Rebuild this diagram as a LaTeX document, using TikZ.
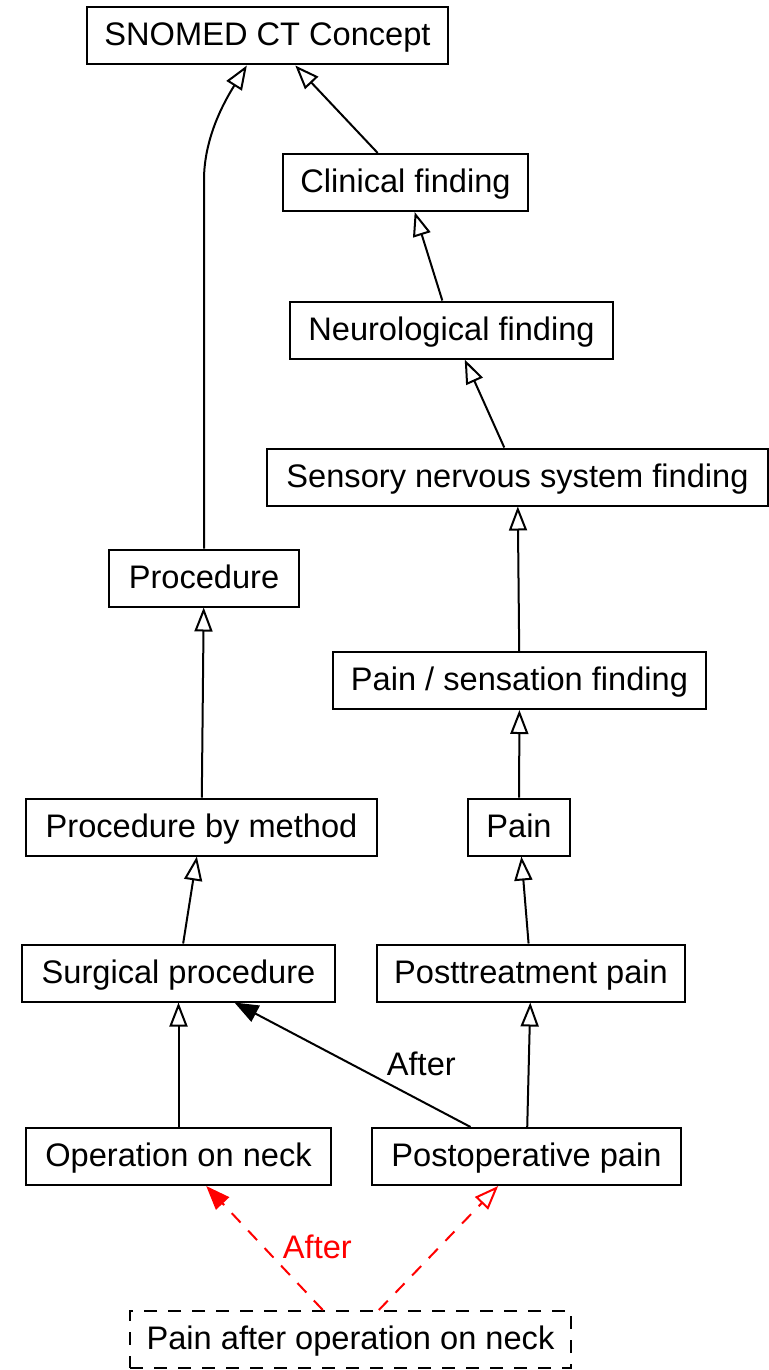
\documentclass[tikz,border=0pt]{standalone}
\usepackage{fontspec}
\setmainfont{Liberation Sans}
\usetikzlibrary{arrows.meta}
\tikzset{concept/.style={draw, line width=1pt, inner sep=0pt,
    minimum height=28.5pt, minimum width=#1*0.5pt,
    text height=12pt, text depth=2pt, font=\fontsize{16.3}{19}\selectfont}}
\tikzset{lbl/.style={inner sep=0pt, font=\fontsize{16.3}{19}\selectfont}}
\tikzset{isa/.style={draw, line width=1pt, -{Triangle[open, length=12pt, width=9pt]}}}
\tikzset{attr/.style={draw, line width=1pt, -{Triangle[length=12pt, width=9pt]}}}
\tikzset{redisa/.style={isa, red, dash pattern=on 6.5pt off 5.5pt}}
\tikzset{redattr/.style={attr, red, dash pattern=on 6.5pt off 5.5pt}}

\begin{document}
\begin{tikzpicture}[x=0.5pt, y=-0.5pt]
	    \useasboundingbox (0,0) rectangle (769,1370);
	    % concepts
	    \node[concept=361] (snomed) at (267.5,36) {SNOMED CT Concept};
	    \node[concept=245] (clinical) at (405.5,182.5) {Clinical finding};
	    \node[concept=323] (neuro) at (451.5,330) {Neurological finding};
	    \node[concept=501] (sensory) at (517.5,477) {Sensory nervous system finding};
	    \node[concept=190] (procedure) at (204,578) {Procedure};
	    \node[concept=373] (painsens) at (519.5,680.5) {Pain / sensation finding};
	    \node[concept=351] (bymethod) at (201.5,827) {Procedure by method};
	    \node[concept=102] (pain) at (519,827) {Pain};
	    \node[concept=313] (surgical) at (178.5,973) {Surgical procedure};
	    \node[concept=308] (posttreat) at (531,973) {Posttreatment pain};
	    \node[concept=305] (opneck) at (178.5,1156.5) {Operation on neck};
	    \node[concept=309] (postop) at (526.5,1156.5) {Postoperative pain};
	    \node[concept=441, dash pattern=on 6.5pt off 5.5pt] (painafter) at (350.5,1339.5) {Pain after operation on neck};
	    \coordinate (bend) at (204,180);
	    % is-a
	    \draw[isa] (procedure.north) -- (bend) .. controls (204,138) and (224,102) .. (snomed.235);
	    \draw[isa] (clinical) -- (snomed);
	    \draw[isa] (neuro) -- (clinical);
	    \draw[isa] (sensory) -- (neuro);
	    \draw[isa] (painsens) -- (sensory);
	    \draw[isa] (pain) -- (painsens);
	    \draw[isa] (bymethod) -- (procedure);
	    \draw[isa] (surgical) -- (bymethod);
	    \draw[isa] (posttreat) -- (pain);
	    \draw[isa] (opneck) -- (surgical);
	    \draw[isa] (postop) -- (posttreat);
	    % attributes
	    \draw[attr] (postop) -- node[lbl, pos=0.51, anchor=west, xshift=17.9pt] {After} (surgical);
	    \draw[redattr] (painafter) -- node[lbl, text=red, pos=0.51, anchor=west, xshift=9.3pt] {After} (opneck);
	    \draw[redisa] (painafter) -- (postop);
	\end{tikzpicture}
\end{document}
